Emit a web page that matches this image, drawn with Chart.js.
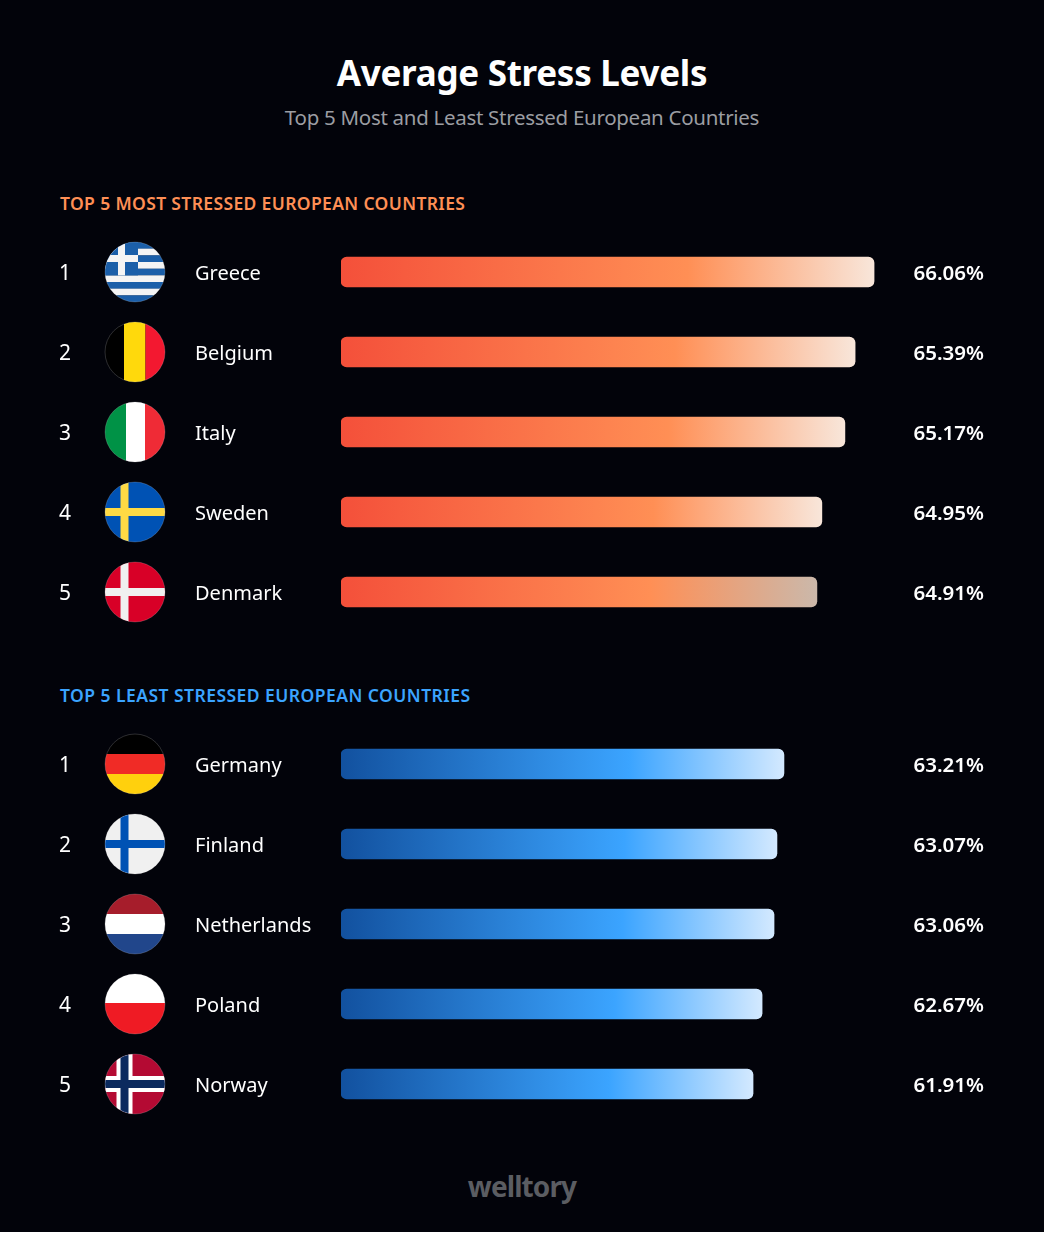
<!DOCTYPE html>
<html>
<head>
<meta charset="utf-8">
<script src="https://cdn.jsdelivr.net/npm/chart.js@4/dist/chart.umd.min.js"></script>
<style>
  html, body { margin: 0; padding: 0; background: #fff; }
  #page { position: relative; width: 1044px; height: 1232px; background: #02030a; overflow: hidden; font-family: "Noto Sans", sans-serif; }
  #page div, #page canvas { position: absolute; white-space: nowrap; }
  .center { left: 0; width: 1044px; text-align: center; }
  #title { top: 50px; font-size: 35px; line-height: 46px; font-weight: 700; color: #fff; letter-spacing: -0.28px; }
  #subtitle { top: 103px; font-size: 20.5px; line-height: 28px; color: #9b9da2; letter-spacing: -0.29px; }
  .section { left: 60px; font-size: 17.5px; line-height: 24px; font-weight: 600; }
  #logo { top: 1167px; font-size: 28px; line-height: 38px; font-weight: 700; color: #5b5d62; letter-spacing: -0.9px; }
</style>
</head>
<body>
<div id="page">
  <div id="title" class="center">Average Stress Levels</div>
  <div id="subtitle" class="center">Top 5 Most and Least Stressed European Countries</div>
  <div class="section" style="top:191px;color:#ff8f55;letter-spacing:0.36px">TOP 5 MOST STRESSED EUROPEAN COUNTRIES</div>
  <canvas id="mostChart" width="1044" height="400" style="left:0;top:232px"></canvas>
  <div class="section" style="top:683px;color:#3ba4ff;letter-spacing:0.46px">TOP 5 LEAST STRESSED EUROPEAN COUNTRIES</div>
  <canvas id="leastChart" width="1044" height="400" style="left:0;top:724px"></canvas>
  <div id="logo" class="center">welltory</div>
</div>
<script>
const mostCountries = ['Greece', 'Belgium', 'Italy', 'Sweden', 'Denmark'];
const mostValues = [66.06, 65.39, 65.17, 64.95, 64.91];
// the bars in the picture are not strictly proportional to the printed numbers,
// so the drawn lengths are read off separately on the same axis
const mostBars = [66.06, 65.41, 65.06, 64.27, 64.10];

const leastCountries = ['Germany', 'Finland', 'Netherlands', 'Poland', 'Norway'];
const leastValues = [63.21, 63.07, 63.06, 62.67, 61.91];
const leastBars = [62.97, 62.73, 62.63, 62.22, 61.91];

const ranks = ['1', '2', '3', '4', '5'];
const axisMin = 47.78;
const axisMax = 69.83;

const FONT = '"Noto Sans", sans-serif';

// Flags are drawn around the centre of the circle, in a -30..30 box
const cross = (ctx, color, half) => {
    ctx.fillStyle = color;
    ctx.fillRect(-10.5 - half, -30, half * 2, 60);
    ctx.fillRect(-30, -half, 60, half * 2);
};
const vStripes = (ctx, colors, stops) => {
    colors.forEach((c, i) => {
        ctx.fillStyle = c;
        ctx.fillRect(stops[i], -30, stops[i + 1] - stops[i], 60);
    });
};
const hStripes = (ctx, colors, stops) => {
    colors.forEach((c, i) => {
        ctx.fillStyle = c;
        ctx.fillRect(-30, stops[i], 60, stops[i + 1] - stops[i]);
    });
};
const flags = {
    Greece: (ctx) => {
        const blue = '#1b5fa9';
        for (let i = 0; i < 9; i++) {
            ctx.fillStyle = i % 2 ? '#f4f4f4' : blue;
            ctx.fillRect(-30, -30 + i * 60 / 9, 60, 60 / 9 + 0.2);
        }
        ctx.fillStyle = blue;
        ctx.fillRect(-30, -30, 33, 33.4);
        ctx.fillStyle = '#f4f4f4';
        ctx.fillRect(-17, -30, 7, 33.4);
        ctx.fillRect(-30, -17, 33, 7);
    },
    Belgium: (ctx) => vStripes(ctx, ['#000000', '#ffd90c', '#f31830'], [-30, -11, 10.5, 30]),
    Italy: (ctx) => vStripes(ctx, ['#009246', '#ffffff', '#ef2b36'], [-30, -9, 10, 30]),
    Sweden: (ctx) => {
        ctx.fillStyle = '#0052b4';
        ctx.fillRect(-30, -30, 60, 60);
        cross(ctx, '#ffda44', 4);
    },
    Denmark: (ctx) => {
        ctx.fillStyle = '#d80027';
        ctx.fillRect(-30, -30, 60, 60);
        cross(ctx, '#f0f0f0', 4);
    },
    Germany: (ctx) => hStripes(ctx, ['#000000', '#f02b26', '#ffd00d'], [-30, -10, 10, 30]),
    Finland: (ctx) => {
        ctx.fillStyle = '#f0f0f0';
        ctx.fillRect(-30, -30, 60, 60);
        cross(ctx, '#0052b4', 4);
    },
    Netherlands: (ctx) => hStripes(ctx, ['#a61d2b', '#ffffff', '#21468b'], [-30, -10, 10, 30]),
    Poland: (ctx) => hStripes(ctx, ['#ffffff', '#ef1b24'], [-30, -1, 30]),
    Norway: (ctx) => {
        ctx.fillStyle = '#b40a33';
        ctx.fillRect(-30, -30, 60, 60);
        cross(ctx, '#ffffff', 8);
        cross(ctx, '#0b2a5e', 4);
    },
};

// Rank, round flag and the printed percentage of each row
const rowPlugin = {
    id: 'rows',
    afterDatasetsDraw(chart, args, opts) {
        const { ctx, scales } = chart;
        ctx.save();
        chart.data.labels.forEach((country, i) => {
            const y = scales.y.getPixelForValue(i);

            ctx.fillStyle = '#ffffff';
            ctx.textBaseline = 'middle';
            ctx.textAlign = 'left';
            ctx.font = `400 21px ${FONT}`;
            ctx.fillText(ranks[i], 59, y + 2);

            ctx.textAlign = 'right';
            ctx.font = `600 20.5px ${FONT}`;
            ctx.fillText(opts.values[i].toFixed(2) + '%', 984, y + 2);

            ctx.save();
            ctx.translate(135, y);
            ctx.beginPath();
            ctx.arc(0, 0, 30, 0, Math.PI * 2);
            ctx.clip();
            flags[country](ctx);
            ctx.restore();
            ctx.beginPath();
            ctx.arc(135, y, 30, 0, Math.PI * 2);
            ctx.strokeStyle = 'rgba(255,255,255,0.22)';
            ctx.lineWidth = 0.8;
            ctx.stroke();
        });
        ctx.restore();
    },
};

const barGradient = (stops) => (context) => {
    const { chart, dataIndex, raw } = context;
    const x = chart.scales.x;
    const left = x ? x.getPixelForValue(axisMin) : NaN;
    const right = x ? x.getPixelForValue(raw) : NaN;
    // scales have no pixel range yet on the first pass
    if (!Number.isFinite(left) || !Number.isFinite(right)) return stops[1];
    const g = chart.ctx.createLinearGradient(left, 0, right, 0);
    g.addColorStop(0, stops[0]);
    g.addColorStop(0.65, stops[1]);
    g.addColorStop(1, stops[2][dataIndex]);
    return g;
};

const makeChart = (id, labels, bars, values, stops) => new Chart(document.getElementById(id), {
    type: 'bar',
    data: {
        labels: labels,
        datasets: [
            {
                data: bars,
                base: axisMin,
                backgroundColor: barGradient(stops),
                borderRadius: 6,
                borderSkipped: false,
                barThickness: 30,
            },
        ],
    },
    options: {
        indexAxis: 'y',
        responsive: false,
        animation: false,
        layout: { padding: { left: 195, right: 60 } },
        plugins: {
            legend: { display: false },
            tooltip: { enabled: false },
            rows: { values: values },
        },
        scales: {
            x: { display: false, min: axisMin, max: axisMax },
            y: {
                grid: { display: false },
                border: { display: false },
                afterFit: (axis) => {
                    axis.width = 146;
                    // no extra room for tick labels, rows must fill the canvas
                    axis.paddingTop = 0;
                    axis.paddingBottom = 0;
                },
                ticks: {
                    color: '#ffffff',
                    crossAlign: 'far',
                    autoSkip: false,
                    labelOffset: 2,
                    font: { family: FONT, size: 20 },
                },
            },
        },
    },
    plugins: [rowPlugin],
});

makeChart('mostChart', mostCountries, mostBars, mostValues,
    ['#f4503a', '#ff8f55', ['#f8e6da', '#f8e6da', '#f8e6da', '#f8e6da', '#cbb8aa']]);
makeChart('leastChart', leastCountries, leastBars, leastValues,
    ['#12519f', '#3ba4ff', ['#d3e9ff', '#d3e9ff', '#d3e9ff', '#d3e9ff', '#d3e9ff']]);
</script>
</body>
</html>
